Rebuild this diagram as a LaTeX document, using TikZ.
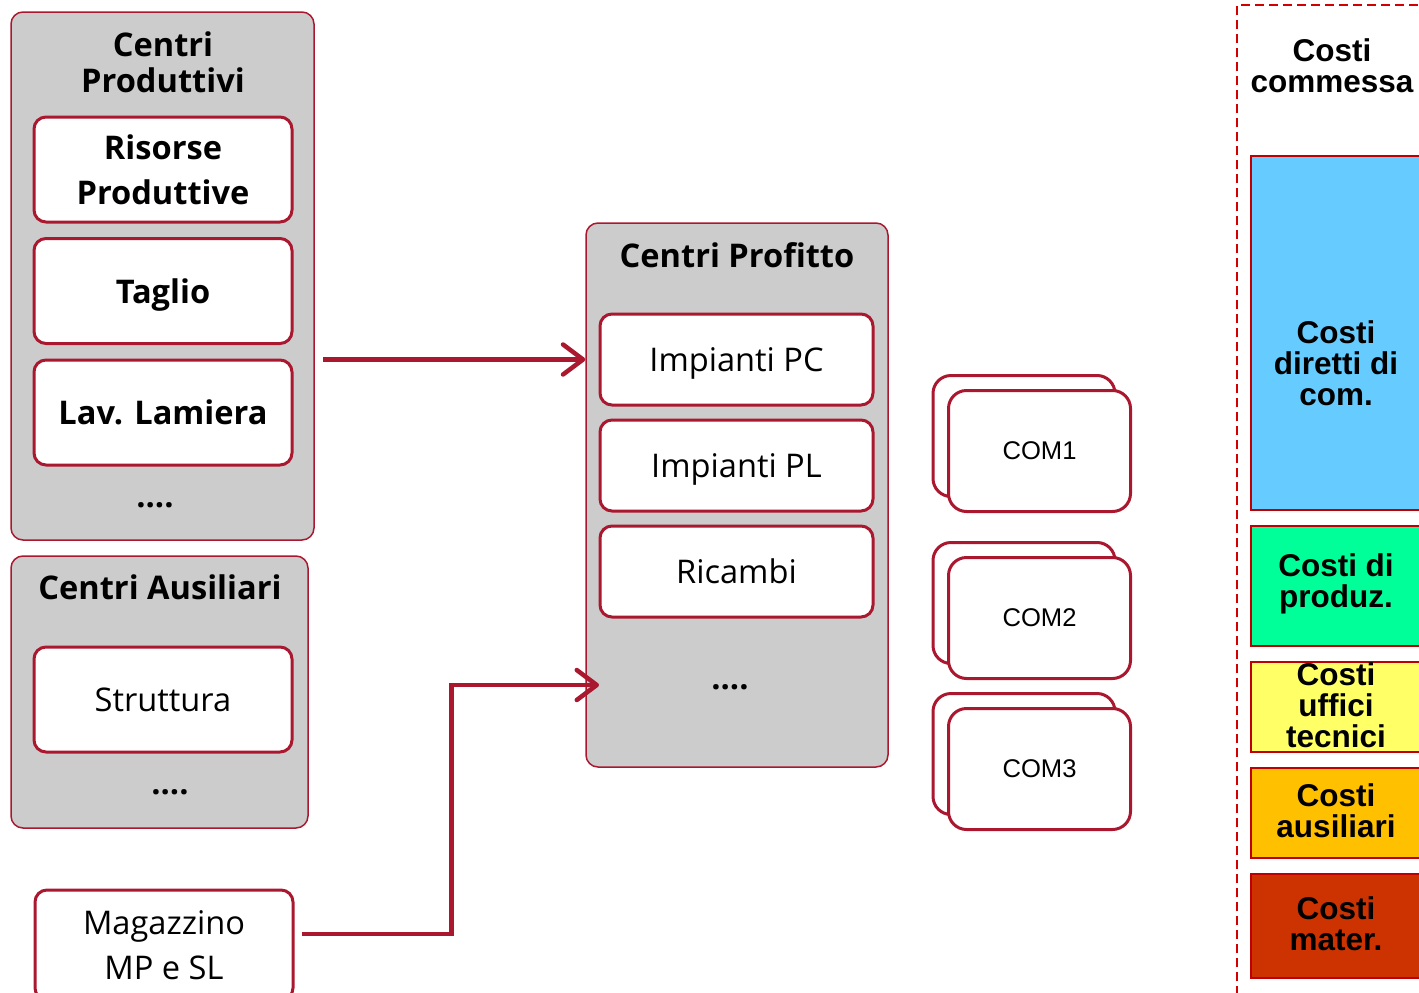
\documentclass[tikz,border=0pt]{standalone}
\usepackage{fontspec}
\setmainfont{Open Sans}
\newfontfamily\arialfont{Liberation Sans}
\usetikzlibrary{arrows.meta, calc}

\definecolor{bordo}{RGB}{170,24,48}
\definecolor{grigio}{RGB}{204,204,204}
\definecolor{rossotratto}{RGB}{210,0,0}
\definecolor{rossobarra}{RGB}{192,0,0}
\definecolor{azzurro}{RGB}{102,204,255}
\definecolor{verde}{RGB}{0,255,153}
\definecolor{giallo}{RGB}{255,255,102}
\definecolor{arancio}{RGB}{255,192,0}
\definecolor{mattone}{RGB}{204,51,0}

\tikzset{
    centro/.style={draw=bordo, fill=grigio, line width=1.5pt, rounded corners=12pt, inner sep=0pt},
    titolo/.style={align=center, font=\fontsize{32.6}{36}\selectfont\bfseries},
    voce/.style={draw=bordo, fill=white, line width=3pt, rounded corners=12pt, inner sep=0pt,
        minimum width=258pt, minimum height=105pt, align=center, text depth=0pt,
        font=\fontsize{32.6}{45}\selectfont},
    vocegrassetto/.style={voce, font=\fontsize{32.6}{45}\selectfont\bfseries},
    profitto/.style={voce, minimum width=273pt, minimum height=91pt},
    puntini/.style={font=\fontsize{32.6}{36}\selectfont\bfseries},
    commessa/.style={draw=bordo, fill=white, line width=3pt, rounded corners=18pt,
        minimum width=182pt, minimum height=121pt, font=\arialfont\fontsize{25.6}{28}\selectfont},
    freccia/.style={draw=bordo, line width=4.5pt, -{Straight Barb[length=20pt, width=30pt, round]}},
    tratteggio/.style={draw=rossotratto, line width=2pt, dash pattern=on 9pt off 5pt},
    costo/.style={draw=rossobarra, line width=1.5pt, minimum width=171pt, inner sep=0pt},
    costotesto/.style={align=center, font=\arialfont\bfseries\fontsize{31.5}{31}\selectfont}
}

\begin{document}
\begin{tikzpicture}[x=1pt, y=-1pt]

    % 0. Page size as the reference
    \useasboundingbox (0,0) rectangle (1419,993);

    % 1. Centri produttivi
    \node[centro, minimum width=303pt, minimum height=528pt] (prod) at (162.5,276) {};
    \node[titolo] (prodTitolo) at (163,62) {Centri\\Produttivi};
    \node[vocegrassetto] (risorse) at (163,169.5) {Risorse\\Produttive};
    \node[vocegrassetto] (taglio) at (163,291) {Taglio};
    \node[vocegrassetto] (lamiera) at (163,412.5) {Lav. Lamiera};
    \node[puntini] (prodAltro) at (155,505) {....};

    % 2. Centri ausiliari
    \node[centro, minimum width=297pt, minimum height=272pt] (aus) at (159.5,692) {};
    \node[titolo] (ausTitolo) at (160,587) {Centri Ausiliari};
    \node[voce] (struttura) at (163,699.5) {Struttura};
    \node[puntini] (ausAltro) at (170,792) {....};

    % 3. Magazzino
    \node[voce, minimum height=110pt] (mag) at (164,945) {Magazzino\\MP e SL};

    % 4. Centri profitto
    \node[centro, minimum width=302pt, minimum height=544pt] (profit) at (737,495) {};
    \node[titolo] (profitTitolo) at (737,255) {Centri Profitto};
    \node[profitto] (pc) at (736.5,359.5) {Impianti PC};
    \node[profitto] (pl) at (736.5,465.5) {Impianti PL};
    \node[profitto] (ricambi) at (736.5,571.5) {Ricambi};
    \node[puntini] (profitAltro) at (730,687) {....};

    % 5. Frecce
    \coordinate (ingresso) at (599,685);
    \draw[freccia] ($(prod.east |- pc)+(8,0)$) -- (profit.west |- pc);
    \draw[freccia] ($(mag.east)+(7,-11)$) -- ++(150,0) |- (ingresso);

    % 6. Commesse (two stacked cards each)
    \foreach \n/\y in {1/451, 2/618, 3/769} {
        \node[commessa] (com\n retro) at (1024,\y-15) {};
        \node[commessa] (com\n) at (1039.5,\y) {COM\n};
    }

    % 7. Costi commessa
    \draw[tratteggio] (1237,995) -- (1237,5) -- (1425,5);
    \node[costotesto] (costiTitolo) at (1332,66) {Costi\\commessa};
    \foreach \nome/\colore/\cy/\h/\ty/\testo in {
        diretti/azzurro/333/354/363/{Costi\\diretti di\\com.},
        produz/verde/586/120/584/{Costi di\\produz.},
        uffici/giallo/707/90/705/{Costi\\uffici\\tecnici},
        ausiliari/arancio/813/90/811/{Costi\\ausiliari},
        mater/mattone/926/104/924/{Costi\\mater.}} {
        \node[costo, fill=\colore, minimum height=\h pt] (\nome) at (1336.5,\cy) {};
        \node[costotesto] (\nome testo) at (1336,\ty) {\testo};
    }
\end{tikzpicture}
\end{document}
